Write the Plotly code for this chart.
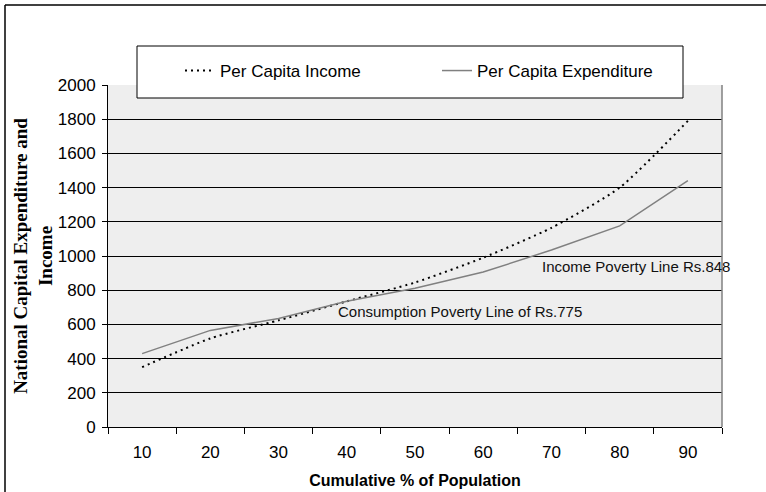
import plotly.graph_objects as go

population_pct = ["10", "20", "30", "40", "50", "60", "70", "80", "90"]
per_capita_income = [350, 518, 624, 735, 845, 990, 1165, 1400, 1790]
per_capita_expenditure = [429, 565, 635, 735, 812, 906, 1035, 1176, 1441]

# plot area in pixels: x 108..722, y 85..427
L, R, T, B = 108, 722, 85, 427
W, H = R - L, B - T


def px(x):
    return (x - L) / W


def py(y):
    return (B - y) / H


fig = go.Figure()
fig.add_trace(go.Scatter(
    x=population_pct, y=per_capita_income, name="Per Capita Income", mode="lines",
    line=dict(color="#000000", width=2, dash="2px,4px", shape="spline", smoothing=0.6),
))
fig.add_trace(go.Scatter(
    x=population_pct, y=per_capita_expenditure, name="Per Capita Expenditure", mode="lines",
    line=dict(color="#808080", width=1.5),
))

# right border of the plot area
fig.add_shape(type="line", xref="paper", yref="paper", x0=1, x1=1, y0=0, y1=1,
              line=dict(color="#808080", width=1.5))
# legend box (white, black border), overlapping the top of the plot
fig.add_shape(type="rect", xref="paper", yref="paper",
              x0=px(137), x1=px(683), y0=py(98), y1=py(46),
              line=dict(color="#000000", width=1), fillcolor="#ffffff", layer="above")
# outer frame (left and top edges visible)
fig.add_shape(type="line", xref="paper", yref="paper", x0=px(5), x1=px(5), y0=py(500), y1=py(5),
              line=dict(color="#000000", width=1.5))
fig.add_shape(type="line", xref="paper", yref="paper", x0=px(5), x1=px(780), y0=py(5), y1=py(5),
              line=dict(color="#000000", width=1.5))

fig.add_annotation(x=2.84, y=678, text="Consumption Poverty Line of Rs.775", showarrow=False,
                   xanchor="left", font=dict(size=15, color="#111111"))
fig.add_annotation(x=5.83, y=941, text="Income Poverty Line Rs.848", showarrow=False,
                   xanchor="left", font=dict(size=15, color="#111111"))

fig.update_xaxes(
    type="category", range=[-0.5, 8.5], tickson="boundaries", ticks="outside", ticklen=6,
    tickcolor="#000000", showline=True, linecolor="#000000", showgrid=False, automargin=False,
    tickfont=dict(size=17, color="#000000"), ticklabelstandoff=10,
    title=dict(text="<b>Cumulative % of Population</b>", font=dict(size=16, color="#000000"), standoff=13),
)
fig.update_yaxes(
    range=[0, 2000], dtick=200, ticks="outside", ticklen=5, tickcolor="#000000",
    showline=True, linecolor="#000000", showgrid=True, gridcolor="#000000", gridwidth=1,
    zeroline=False, automargin=False, tickfont=dict(size=17, color="#000000"), ticklabelstandoff=3,
    title=dict(text="<b>National Capital Expenditure and<br>Income</b>",
               font=dict(family="Liberation Serif", size=19, color="#000000"), standoff=0),
)
fig.update_layout(
    width=766, height=492,
    margin=dict(l=L, r=766 - R, t=T, b=492 - B, autoexpand=False),
    paper_bgcolor="#ffffff", plot_bgcolor="#eeeeee",
    font=dict(family="Liberation Sans, Arial", color="#000000"),
    showlegend=True,
    legend=dict(orientation="h", x=px(180), y=py(71), yanchor="middle", xanchor="left",
                bgcolor="rgba(0,0,0,0)", borderwidth=0, entrywidth=212, entrywidthmode="pixels",
                font=dict(size=17, color="#000000")),
)
fig.write_html("out.html", config={"displayModeBar": False},
               post_script="document.body.style.margin='0';")
